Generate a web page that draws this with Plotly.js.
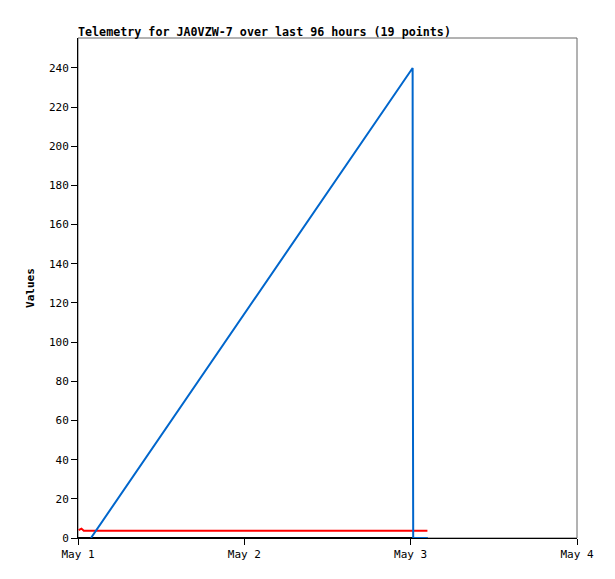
<!DOCTYPE html>
<html><head><meta charset="utf-8">
<script src="https://cdn.plot.ly/plotly-3.0.1.min.js"></script>
<style>html,body{margin:0;padding:0;background:#fff}#c{width:615px;height:579px}</style>
</head><body><div id="c"></div>
<script>
const blueTimes = ['2024-05-01 01:52','2024-05-03 00:17','2024-05-03 00:18','2024-05-03 00:22','2024-05-03 02:25'];
const blueValues = [0, 240, 120, 0, 0];
const redTimes = ['2024-05-01 00:05','2024-05-01 00:30','2024-05-01 00:50','2024-05-01 01:10','2024-05-03 02:25'];
const redValues = [4.0, 4.8, 3.7, 3.7, 3.7];
const blackTimes = ['2024-05-01 00:00','2024-05-03 02:25'];
const blackValues = [0, 0];
const xTickVals = ['2024-05-01','2024-05-02','2024-05-03','2024-05-04'];
const xTickText = ['May 1','May 2','May 3','May 4'];
const yTickVals = [0,20,40,60,80,100,120,140,160,180,200,220,240];

const mono = 'DejaVu Sans Mono, Liberation Mono, monospace';
const traces = [
  {x: redTimes, y: redValues, type:'scatter', mode:'lines', line:{color:'#ff0000', width:2}, hoverinfo:'skip'},
  {x: blackTimes, y: blackValues, type:'scatter', mode:'lines', line:{color:'#000000', width:2}, hoverinfo:'skip'},
  {x: blueTimes, y: blueValues, type:'scatter', mode:'lines', line:{color:'#0066cc', width:2}, hoverinfo:'skip'}
];
const layout = {
  width:615, height:579,
  margin:{l:78, r:38, t:38, b:41},
  paper_bgcolor:'#fff', plot_bgcolor:'#fff',
  showlegend:false,
  font:{family:mono, size:11, color:'#000'},
  title:{text:'<b>Telemetry for JA0VZW-7 over last 96 hours (19 points)</b>', x:0, xref:'paper', xanchor:'left', y:1, yref:'paper', yanchor:'bottom', pad:{b:2}, font:{family:mono, size:11.7, color:'#000'}},
  xaxis:{type:'date', range:['2024-05-01','2024-05-04'], tickvals:xTickVals, ticktext:xTickText, ticks:'outside', ticklen:6, tickcolor:'#000', showgrid:false, zeroline:false, showline:true, linecolor:'#000', linewidth:1, tickfont:{family:mono,size:11,color:'#000'}},
  yaxis:{range:[0,255.3], tickvals:yTickVals, ticks:'outside', ticklen:6, tickcolor:'#000', showgrid:false, zeroline:false, showline:true, linecolor:'#000', linewidth:1, tickfont:{family:mono,size:11,color:'#000'},
    title:{text:'<b>Values</b>', font:{family:mono,size:11,color:'#000'}, standoff:12}},
  shapes:[{type:'rect', xref:'paper', yref:'paper', x0:0, x1:1, y0:0, y1:1, line:{color:'#666', width:1}, layer:'below'}]
};
Plotly.newPlot('c', traces, layout, {staticPlot:true, displayModeBar:false});
</script></body></html>
